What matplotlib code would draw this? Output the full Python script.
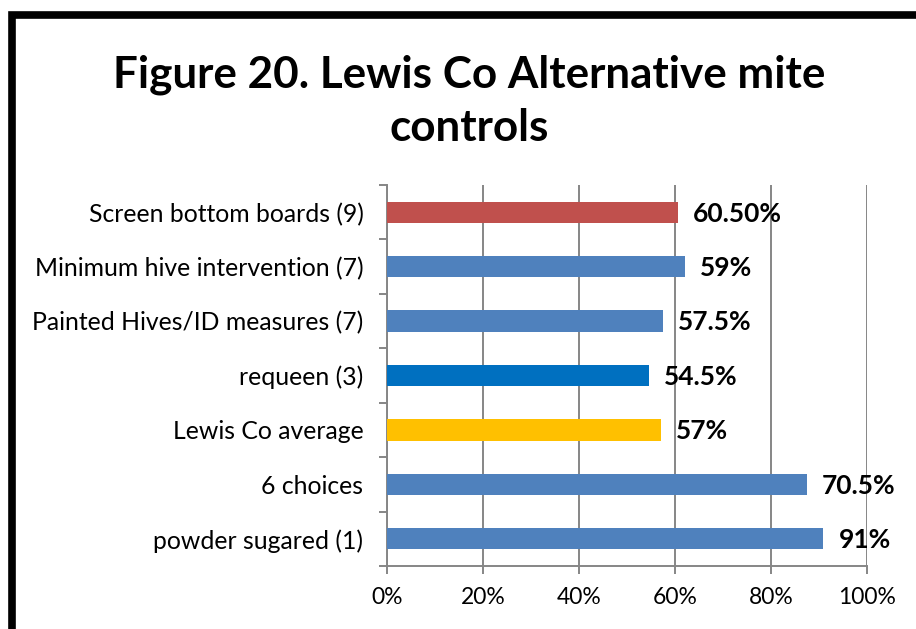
"""Lewis Co alternative mite controls bar chart."""

import matplotlib.pyplot as plt
from matplotlib.patches import Rectangle
from matplotlib.ticker import FixedLocator, PercentFormatter

plt.rcParams['font.family'] = ['Lato', 'DejaVu Sans']

categories = [
    "Screen bottom boards (9)",
    "Minimum hive intervention (7)",
    "Painted Hives/ID measures (7)",
    "requeen (3)",
    "Lewis Co average",
    "6 choices",
    "powder sugared (1)",
]
# bar lengths as drawn (percent) and the data labels printed next to them
values = [60.6, 62.0, 57.4, 54.6, 57.0, 87.4, 90.9]
value_labels = ["60.50%", "59%", "57.5%", "54.5%", "57%", "70.5%", "91%"]
bar_colors = ["#C0504D", "#4F81BD", "#4F81BD", "#0070C0", "#FFC000", "#4F81BD", "#4F81BD"]
x_ticks = [0, 20, 40, 60, 80, 100]

W, H = 916, 629
fig = plt.figure(figsize=(W / 100, H / 100), dpi=100)

# thick black frame, cut off on the right and bottom like the source
fig.patches.append(Rectangle((11.5 / W, -0.1), 1.2, 1.1 - 14.5 / H,
                             transform=fig.transFigure, fill=False,
                             edgecolor="black", linewidth=5.5, zorder=0))

fig.text(469 / W, 1 - 101 / H, "Figure 20. Lewis Co Alternative mite\ncontrols",
         ha="center", va="center", fontsize=31.7, fontweight="bold",
         linespacing=1.38)

ax = fig.add_axes([387 / W, 63 / H, 480 / W, 381 / H])
positions = list(range(len(categories)))
ax.barh(positions, values, height=0.39, color=bar_colors, zorder=3)
for pos, val, text in zip(positions, values, value_labels):
    ax.annotate(text, (val, pos), xytext=(11, -1), textcoords="offset points",
                ha="left", va="center", fontsize=19, fontweight="bold", zorder=4)

ax.set_ylim(len(categories) - 0.5, -0.5)
ax.set_xlim(0, 100)
ax.set_yticks(positions, categories)
ax.yaxis.set_minor_locator(FixedLocator([p - 0.5 for p in range(len(categories) + 1)]))
ax.tick_params(axis="y", which="major", length=0, pad=17, labelsize=17.8)
ax.tick_params(axis="y", which="minor", length=6, width=1.4, color="#868686")
ax.set_xticks(x_ticks)
ax.xaxis.set_major_formatter(PercentFormatter(decimals=0))
ax.tick_params(axis="x", length=6, width=1.4, color="#868686", labelsize=16.5, pad=9)

ax.grid(axis="x", color="#868686", linewidth=1.4, zorder=0)
for side in ["top", "right"]:
    ax.spines[side].set_visible(False)
for side in ["left", "bottom"]:
    ax.spines[side].set_color("#868686")
    ax.spines[side].set_linewidth(1.4)

fig.savefig("out.png", dpi=100)
